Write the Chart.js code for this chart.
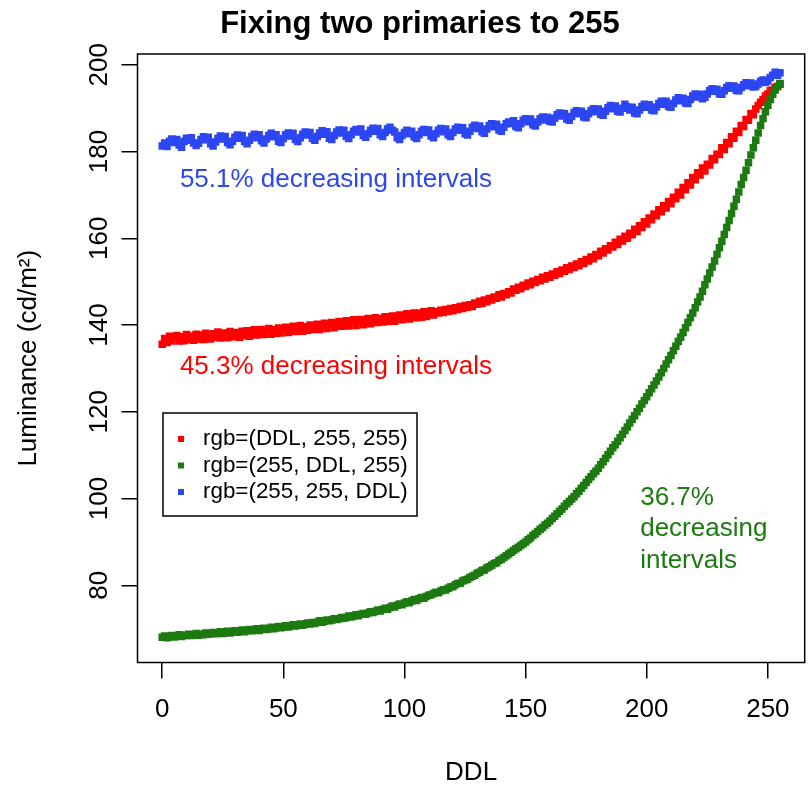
<!DOCTYPE html>
<html>
<head>
  <title>Fixing two primaries to 255</title>
  <style>body { margin: 0; background: #fff; }</style>
</head>
<body>
  <canvas id="myChart" width="810" height="792"></canvas>
  <script src="https://cdn.jsdelivr.net/npm/chart.js@4.4.1/dist/chart.umd.min.js"></script>
  <script>
  // digital driving level, one measurement per step
  const ddl = Array.from({length: 256}, (_, i) => i);

  // luminance (cd/m2), DDL 0..255
  const redLum = [
    135.6, 136.9, 136.0, 137.4, 136.3, 137.2, 137.6, 136.3, 137.3, 136.4, 137.8, 136.6, 137.5, 136.5, 137.9, 136.8,
    137.7, 136.7, 138.1, 137.0, 136.8, 138.0, 137.2, 138.4, 137.0, 137.9, 138.2, 137.1, 138.5, 137.3, 138.1, 138.3,
    137.2, 138.6, 137.6, 138.7, 137.4, 138.4, 138.9, 137.7, 138.6, 139.0, 137.8, 138.8, 139.2, 137.9, 138.9, 138.1,
    139.3, 138.2, 138.9, 139.5, 138.3, 139.2, 139.7, 138.5, 139.4, 139.9, 138.6, 139.6, 138.8, 140.0, 139.0, 139.8,
    140.2, 139.0, 139.9, 140.4, 139.2, 140.2, 140.6, 139.4, 140.3, 140.8, 139.7, 140.5, 141.0, 139.8, 140.7, 141.2,
    139.9, 140.9, 141.3, 140.1, 141.1, 141.5, 140.3, 141.3, 141.7, 140.6, 141.5, 140.7, 141.9, 140.8, 141.7, 142.1,
    140.9, 142.0, 142.3, 141.2, 142.2, 142.6, 141.4, 142.4, 142.8, 141.7, 142.7, 141.8, 143.1, 142.0, 142.9, 143.3,
    142.3, 143.1, 142.8, 143.4, 142.9, 143.6, 143.1, 143.8, 143.3, 144.0, 143.6, 144.3, 143.8, 144.5, 144.1, 144.7,
    144.3, 145.1, 144.8, 145.5, 145.0, 145.8, 145.4, 146.1, 145.8, 146.5, 146.2, 147.0, 146.5, 147.3, 147.0, 147.7,
    147.4, 148.3, 148.0, 148.7, 148.4, 149.2, 148.9, 149.7, 149.3, 150.1, 149.8, 150.5, 150.2, 151.0, 150.6, 151.4,
    151.0, 151.8, 151.5, 152.3, 151.9, 152.7, 152.4, 153.2, 152.8, 153.6, 153.3, 154.1, 153.7, 154.6, 154.2, 155.1,
    154.8, 155.7, 155.3, 156.3, 156.0, 157.0, 156.6, 157.6, 157.3, 158.3, 158.0, 159.1, 158.6, 159.8, 159.4, 160.5,
    160.0, 161.2, 160.8, 162.1, 161.6, 162.9, 162.5, 163.8, 163.3, 164.7, 164.3, 165.6, 165.2, 166.6, 166.1, 167.5,
    167.0, 168.5, 168.0, 169.5, 169.1, 170.6, 170.0, 171.7, 171.2, 172.8, 172.3, 174.0, 173.5, 175.1, 174.6, 176.2,
    175.5, 177.1, 176.9, 178.4, 178.1, 179.4, 179.3, 180.9, 180.5, 182.1, 181.8, 183.4, 183.1, 184.7, 184.4, 186.0,
    185.8, 187.4, 187.2, 188.8, 188.5, 189.8, 190.6, 191.4, 192.0, 192.8, 193.3, 194.0, 194.2, 194.8, 195.0, 195.5
  ];
  const greenLum = [
    68.0, 68.3, 67.9, 68.2, 68.4, 68.1, 68.3, 68.6, 68.2, 68.5, 68.4, 68.7, 68.4, 68.6, 68.9, 68.5,
    68.8, 68.6, 69.0, 68.7, 68.9, 69.1, 68.8, 69.0, 69.3, 68.9, 69.1, 69.4, 69.0, 69.3, 69.5, 69.2,
    69.4, 69.7, 69.3, 69.6, 69.8, 69.5, 69.7, 70.0, 69.6, 69.9, 70.1, 69.8, 70.0, 70.3, 70.0, 70.2,
    70.5, 70.2, 70.4, 70.7, 70.4, 70.6, 70.9, 70.6, 70.8, 71.1, 70.8, 71.0, 71.3, 71.1, 71.4, 71.2,
    71.5, 71.8, 71.5, 71.7, 72.0, 71.8, 72.0, 72.3, 72.1, 72.3, 72.6, 72.4, 72.6, 72.9, 72.7, 72.9,
    73.2, 73.0, 73.3, 73.5, 73.3, 73.6, 73.9, 73.7, 74.0, 74.3, 74.1, 74.4, 74.7, 74.5, 74.9, 75.2,
    75.0, 75.4, 75.7, 75.5, 75.9, 76.2, 76.0, 76.4, 76.7, 76.5, 76.9, 77.2, 77.0, 77.4, 77.7, 77.8,
    78.1, 78.4, 78.3, 78.7, 79.0, 78.9, 79.3, 79.6, 79.7, 80.1, 80.4, 80.5, 81.0, 81.2, 81.4, 81.8,
    82.1, 82.3, 82.8, 83.0, 83.4, 83.5, 84.0, 84.3, 84.6, 85.0, 85.2, 85.7, 86.0, 86.4, 86.8, 87.2,
    87.6, 88.0, 88.4, 88.8, 89.2, 89.6, 90.0, 90.5, 90.9, 91.5, 91.9, 92.4, 92.9, 93.3, 93.9, 94.3,
    94.8, 95.4, 95.9, 96.5, 97.1, 97.6, 98.2, 98.8, 99.3, 99.9, 100.4, 101.1, 101.7, 102.4, 103.0, 103.7,
    104.4, 105.0, 105.7, 106.3, 107.0, 107.8, 108.5, 109.3, 110.1, 110.9, 111.7, 112.4, 113.2, 114.0, 114.8, 115.7,
    116.5, 117.4, 118.3, 119.1, 120.0, 120.8, 121.8, 122.6, 123.5, 124.4, 125.3, 126.2, 127.1, 128.0, 129.0, 130.0,
    131.0, 132.0, 133.0, 134.1, 135.1, 136.2, 137.2, 138.3, 139.4, 140.6, 141.7, 142.8, 144.0, 145.3, 146.5, 147.8,
    149.3, 150.6, 152.0, 153.4, 154.8, 156.3, 157.8, 159.3, 160.9, 162.5, 164.1, 165.7, 167.4, 169.0, 170.7, 172.4,
    174.0, 175.7, 177.4, 179.2, 180.9, 182.6, 184.3, 186.0, 187.6, 189.2, 190.7, 192.0, 193.2, 194.2, 195.0, 195.7
  ];
  const blueLum = [
    181.3, 182.0, 181.2, 182.4, 182.9, 182.1, 182.8, 181.5, 181.0, 182.3, 183.1, 182.6, 183.2, 182.0, 181.4, 181.9,
    182.8, 183.4, 182.7, 183.3, 181.8, 181.3, 182.2, 183.0, 183.6, 182.9, 183.5, 182.1, 181.6, 182.4, 183.3, 183.8,
    183.1, 183.7, 182.3, 181.8, 182.6, 183.5, 184.0, 183.2, 183.9, 182.5, 182.0, 182.9, 183.7, 184.2, 183.4, 183.9,
    182.4, 182.1, 183.0, 183.9, 184.3, 183.6, 184.2, 182.8, 182.3, 183.2, 184.0, 184.5, 183.8, 184.4, 183.0, 182.6,
    183.5, 184.3, 184.8, 184.0, 184.6, 183.1, 182.8, 183.7, 184.5, 185.0, 184.3, 184.9, 183.5, 183.0, 183.9, 184.7,
    185.1, 184.5, 185.2, 183.7, 183.3, 184.1, 184.9, 185.4, 184.7, 185.3, 183.9, 183.5, 184.4, 185.2, 185.6, 184.9,
    184.5, 183.2, 182.8, 183.7, 184.4, 184.9, 184.1, 184.7, 183.4, 183.0, 183.9, 184.7, 185.1, 184.4, 185.0, 183.6,
    183.2, 184.1, 184.9, 185.3, 184.6, 185.2, 183.9, 183.5, 184.4, 185.2, 185.6, 184.9, 185.5, 184.1, 183.8, 184.7,
    185.6, 186.1, 185.3, 185.9, 184.6, 184.2, 185.2, 186.0, 186.4, 185.7, 186.3, 185.0, 184.7, 185.6, 186.4, 186.8,
    186.5, 187.1, 185.8, 185.5, 186.4, 187.2, 187.6, 186.9, 187.5, 186.2, 185.9, 186.8, 187.6, 188.0, 187.3, 187.9,
    187.0, 186.8, 187.7, 188.5, 188.9, 188.2, 188.8, 187.5, 187.2, 188.1, 189.0, 189.4, 188.7, 189.3, 188.0, 187.8,
    188.7, 189.5, 189.9, 189.2, 189.8, 188.6, 188.4, 189.3, 190.1, 190.6, 189.9, 190.5, 189.3, 189.1, 190.0, 190.9,
    190.3, 189.6, 190.2, 188.9, 188.7, 189.6, 190.4, 190.9, 190.2, 190.8, 189.6, 189.4, 190.3, 191.1, 191.6, 190.9,
    191.6, 190.4, 190.2, 191.1, 191.9, 192.4, 191.7, 192.3, 191.2, 191.1, 192.0, 192.8, 193.3, 192.6, 193.2, 192.2,
    192.5, 193.3, 194.1, 194.5, 193.9, 194.4, 193.3, 193.2, 194.0, 194.8, 195.2, 194.6, 195.1, 194.1, 194.0, 194.8,
    195.4, 195.9, 195.2, 195.8, 194.9, 195.0, 195.6, 196.2, 196.5, 195.9, 196.3, 197.1, 197.6, 198.3, 197.6, 198.2
  ];

  const seriesLabels = ['rgb=(DDL, 255, 255)', 'rgb=(255, DDL, 255)', 'rgb=(255, 255, DDL)'];
  const seriesColors = ['#ff0000', '#1c7a10', '#2c46f2'];
  const xTicks = [0, 50, 100, 150, 200, 250];
  const yTicks = [80, 100, 120, 140, 160, 180, 200];
  // one note per series, same order as the series
  const notes = [['45.3% decreasing intervals'], ['36.7%', 'decreasing', 'intervals'], ['55.1% decreasing intervals']];
  const chartTitle = 'Fixing two primaries to 255';

  const FONT = "'Liberation Sans', Arial, Helvetica, sans-serif";
  // where the notes sit, in data units (left edge, middle of first line)
  const noteAt = [{x: 7.3, y: 130.4}, {x: 197.3, y: 100.2}, {x: 7.3, y: 173.5}];

  const toPoints = vals => ddl.map((d, i) => ({x: d, y: vals[i]}));

  const extras = {
    id: 'extras',
    afterDraw(chart) {
      const {ctx, chartArea: a} = chart;
      const xs = chart.scales.x, ys = chart.scales.y;
      ctx.save();
      // plot box
      ctx.strokeStyle = '#000';
      ctx.lineWidth = 1.5;
      ctx.strokeRect(a.left, a.top, a.right - a.left, a.bottom - a.top);

      // title
      ctx.fillStyle = '#000';
      ctx.font = 'bold 31px ' + FONT;
      ctx.textAlign = 'center';
      ctx.textBaseline = 'alphabetic';
      ctx.fillText(chartTitle, 420, 33);

      // y tick labels turned sideways like R does
      ctx.font = '26px ' + FONT;
      ys.ticks.forEach(t => {
        ctx.save();
        ctx.translate(107, ys.getPixelForValue(t.value));
        ctx.rotate(-Math.PI / 2);
        ctx.fillText(String(t.value), 0, 0);
        ctx.restore();
      });

      // notes on the curves
      ctx.textAlign = 'left';
      ctx.textBaseline = 'middle';
      notes.forEach((lines, k) => {
        ctx.fillStyle = seriesColors[k];
        const px = xs.getPixelForValue(noteAt[k].x);
        const py = ys.getPixelForValue(noteAt[k].y);
        lines.forEach((s, j) => ctx.fillText(s, px, py + j * 31.5));
      });

      // legend box
      ctx.strokeStyle = '#000';
      ctx.lineWidth = 1.5;
      ctx.strokeRect(163, 413, 254, 103);
      ctx.font = '22.4px ' + FONT;
      chart.data.datasets.forEach((ds, k) => {
        const yy = 439 + k * 26.5;
        ctx.fillStyle = ds.backgroundColor;
        ctx.fillRect(178, yy - 3, 6, 6);
        ctx.fillStyle = '#000';
        ctx.fillText(ds.label, 203, yy);
      });
      ctx.restore();
    }
  };

  const ctx = document.getElementById('myChart').getContext('2d');
  const chart = new Chart(ctx, {
    type: 'scatter',
    data: {
      datasets: [redLum, greenLum, blueLum].map((vals, k) => ({
        label: seriesLabels[k],
        data: toPoints(vals),
        backgroundColor: seriesColors[k],
        borderWidth: 0,
        pointStyle: 'rect',
        pointRadius: 5.3,
        order: 2 - k
      }))
    },
    options: {
      responsive: false,
      animation: false,
      layout: { padding: { top: 54, right: 5, left: 0, bottom: 0 } },
      plugins: { legend: { display: false }, title: { display: false }, tooltip: { enabled: false } },
      scales: {
        x: {
          type: 'linear',
          min: -10.2,
          max: 265.2,
          afterBuildTicks: s => { s.ticks = xTicks.map(v => ({value: v})); },
          afterFit: s => { s.height = 129.5; },
          border: { display: false },
          grid: { drawOnChartArea: false, drawTicks: true, tickLength: 16, color: '#000', lineWidth: 1.5 },
          ticks: { color: '#000', padding: 16, maxRotation: 0, font: { family: FONT, size: 26 } },
          title: { display: true, text: 'DDL', color: '#000', padding: { bottom: 4 }, font: { family: FONT, size: 26 } }
        },
        y: {
          type: 'linear',
          min: 62.2,
          max: 202.5,
          afterBuildTicks: s => { s.ticks = yTicks.map(v => ({value: v})); },
          afterFit: s => { s.width = 137.5; },
          border: { display: false },
          grid: { drawOnChartArea: false, drawTicks: true, tickLength: 16, color: '#000', lineWidth: 1.5 },
          ticks: { display: false },
          title: { display: true, text: 'Luminance (cd/m\u00b2)', color: '#000', padding: { top: 13 }, font: { family: FONT, size: 26 } }
        }
      }
    },
    plugins: [extras]
  });
  </script>
</body>
</html>
